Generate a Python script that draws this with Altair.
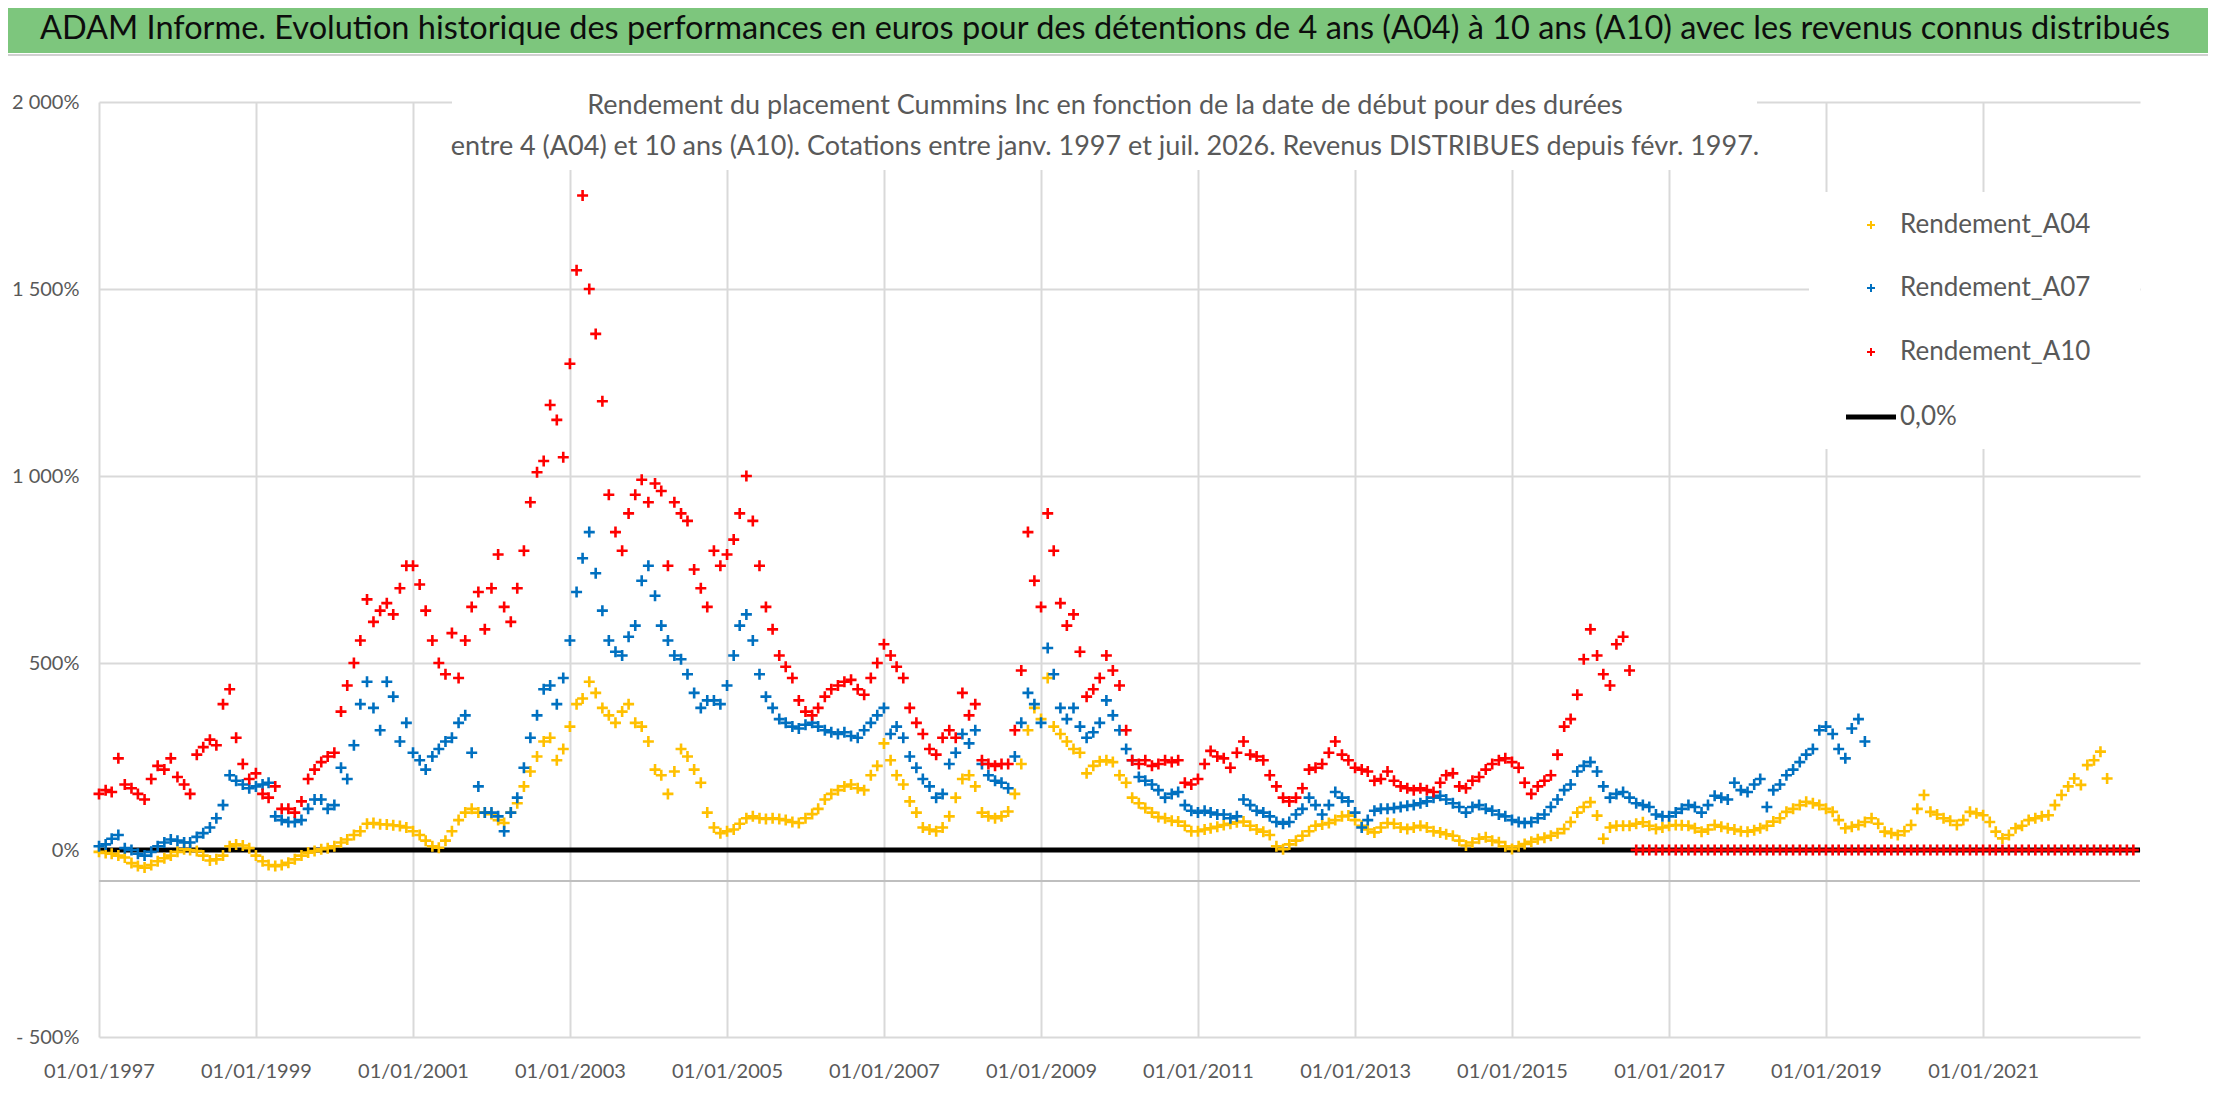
import altair as alt
import pandas as pd

FONT = "Lato"
GREY = "#595959"
GRID = "#D9D9D9"

titre = ("ADAM Informe. Evolution historique des performances en euros pour des détentions "
         "de 4 ans (A04) à 10 ans (A10) avec les revenus connus distribués")
sous_titre = [
    "Rendement du placement Cummins Inc en fonction de la date de début pour des durées",
    "entre 4 (A04) et 10 ans (A10). Cotations entre janv. 1997 et juil. 2026. Revenus DISTRIBUES depuis févr. 1997.",
]

series = ["Rendement_A04", "Rendement_A07", "Rendement_A10"]
couleurs = ["#FFC000", "#0070C0", "#FF0000"]

# valeurs mensuelles (en %), à partir de janv. 1997
a04 = [
    -5, -8, -10, -15, -20, -35, -43, -47, -40, -30, -22, -15,        # 1997
    -5, 2, 0, -3, -15, -28, -25, -15, 10, 15, 12, 5,                 # 1998
    -15, -30, -40, -43, -40, -34, -25, -15, -7, -3, 2, 5,            # 1999
    10, 20, 28, 40, 50, 70, 72, 69, 68, 66, 64, 60,                  # 2000
    50, 40, 25, 10, 6, 25, 50, 80, 100, 110, 100, 100,               # 2001
    96, 80, 72, 100, 125, 170, 210, 250, 290, 300, 240, 270,         # 2002
    330, 390, 405, 450, 420, 380, 360, 340, 370, 390, 340, 330,      # 2003
    290, 215, 200, 150, 210, 270, 250, 215, 180, 100, 60, 45,        # 2004
    50, 55, 70, 85, 90, 85, 83, 85, 83, 80, 75, 72,                  # 2005
    85, 96, 110, 135, 150, 160, 170, 175, 165, 160, 200, 225,        # 2006
    285, 240, 200, 175, 130, 100, 60, 55, 50, 60, 90, 140,           # 2007
    190, 200, 170, 100, 90, 85, 90, 103, 150, 230, 320, 380,         # 2008
    350, 460, 330, 310, 290, 270, 260, 205, 225, 237, 240, 235,      # 2009
    200, 180, 140, 125, 112, 100, 88, 85, 78, 76, 65, 50,            # 2010
    50, 55, 58, 62, 67, 70, 74, 76, 65, 55, 49, 40,                  # 2011
    10, 2, 15, 25, 38, 50, 65, 68, 72, 80, 90, 92,                   # 2012
    80, 65, 55, 47, 60, 72, 70, 60, 56, 60, 65, 60,                  # 2013
    50, 47, 42, 38, 25, 12, 20, 30, 34, 25, 21, 10,                  # 2014
    3, 10, 16, 22, 29, 33, 38, 45, 56, 75, 100, 115,                 # 2015
    128, 92, 30, 60, 65, 65, 65, 70, 74, 65, 56, 60,                 # 2016
    65, 67, 66, 65, 58, 49, 55, 67, 62, 58, 55, 50,                  # 2017
    49, 53, 58, 65, 76, 85, 102, 110, 120, 129, 125, 120,            # 2018
    110, 102, 80, 58, 62, 67, 75, 85, 70, 49, 45, 40,                # 2019
    50, 67, 110, 147, 102, 95, 85, 78, 67, 80, 102, 98,              # 2020
    93, 75, 49, 31, 40, 58, 65, 80, 85, 90, 93, 120,                 # 2021
    147, 170, 191, 174, 227, 240, 263, 191,                          # 2022
]
a07 = [
    10, 15, 30, 40, 5, 0, -10, -15, -5, 10, 20, 28,                  # 1997
    25, 20, 20, 35, 45, 60, 85, 120, 200, 185, 175, 165,             # 1998
    170, 175, 180, 90, 80, 75, 75, 80, 110, 135, 135, 110,           # 1999
    120, 220, 190, 280, 390, 450, 380, 320, 450, 410, 290, 340,      # 2000
    260, 240, 215, 250, 270, 290, 300, 340, 360, 260, 170, 100,      # 2001
    100, 90, 50, 100, 140, 220, 300, 360, 430, 440, 390, 460,        # 2002
    560, 690, 780, 850, 740, 640, 560, 530, 520, 570, 600, 720,      # 2003
    760, 680, 600, 560, 520, 510, 470, 420, 380, 400, 400, 390,      # 2004
    440, 520, 600, 630, 560, 470, 410, 380, 350, 340, 330, 325,      # 2005
    335, 340, 330, 320, 315, 310, 315, 305, 300, 320, 340, 360,      # 2006
    380, 310, 330, 300, 250, 220, 190, 170, 140, 150, 230, 260,      # 2007
    310, 285, 320, 230, 200, 185, 180, 165, 250, 340, 420, 390,      # 2008
    340, 540, 470, 380, 350, 380, 330, 300, 315, 340, 400, 360,      # 2009
    320, 270, 240, 195, 185, 175, 160, 140, 150, 155, 120, 105,      # 2010
    100, 105, 100, 95, 95, 85, 90, 135, 120, 105, 100, 90,           # 2011
    75, 70, 75, 95, 110, 140, 120, 95, 120, 155, 140, 130,           # 2012
    100, 60, 80, 105, 110, 110, 112, 115, 118, 120, 125, 130,        # 2013
    140, 145, 135, 125, 115, 100, 115, 120, 110, 105, 95, 90,        # 2014
    80, 75, 72, 75, 85, 95, 115, 135, 160, 175, 210, 225,            # 2015
    235, 210, 170, 140, 150, 155, 140, 125, 120, 115, 95, 90,        # 2016
    90, 100, 110, 120, 115, 100, 120, 145, 140, 135, 180, 160,       # 2017
    155, 175, 190, 115, 160, 175, 200, 215, 235, 255, 270, 320,      # 2018
    330, 310, 270, 245, 325, 350, 290,                               # 2019
]
a10 = [
    150, 160, 155, 245, 175, 165, 150, 135, 190, 225, 215, 245,      # 1997
    195, 175, 150, 255, 275, 295, 280, 390, 430, 300, 230, 190,      # 1998
    205, 150, 140, 170, 110, 110, 100, 130, 190, 215, 235, 250,      # 1999
    260, 370, 440, 500, 560, 670, 610, 640, 660, 630, 700, 760,      # 2000
    760, 710, 640, 560, 500, 470, 580, 460, 560, 650, 690, 590,      # 2001
    700, 790, 650, 610, 700, 800, 930, 1010, 1040, 1190, 1150, 1050, # 2002
    1300, 1550, 1750, 1500, 1380, 1200, 950, 850, 800, 900, 950, 990,  # 2003
    930, 980, 960, 760, 930, 900, 880, 750, 700, 650, 800, 760,      # 2004
    790, 830, 900, 1000, 880, 760, 650, 590, 520, 490, 460, 400,     # 2005
    370, 360, 380, 410, 430, 440, 450, 455, 430, 415, 460, 500,      # 2006
    550, 520, 490, 460, 380, 340, 310, 270, 255, 300, 320, 300,      # 2007
    420, 360, 390, 240, 230, 225, 230, 230, 320, 480, 850, 720,      # 2008
    650, 900, 800, 660, 600, 630, 530, 410, 430, 460, 520, 480,      # 2009
    440, 320, 240, 230, 240, 225, 230, 240, 235, 240, 180, 175,      # 2010
    190, 230, 265, 250, 245, 220, 260, 290, 255, 250, 240, 200,      # 2011
    170, 140, 130, 140, 165, 215, 220, 230, 260, 290, 255, 240,      # 2012
    220, 215, 210, 185, 190, 210, 185, 170, 165, 160, 165, 160,      # 2013
    155, 180, 200, 205, 170, 165, 185, 195, 215, 230, 240, 245,      # 2014
    235, 220, 180, 150, 170, 185, 200, 255, 330, 350, 415, 510,      # 2015
    590, 520, 470, 440, 550, 570, 480, 0, 0, 0, 0, 0,                # 2016
    0, 0, 0, 0, 0, 0, 0, 0, 0, 0, 0, 0,                              # 2017
    0, 0, 0, 0, 0, 0, 0, 0, 0, 0, 0, 0,                              # 2018
    0, 0, 0, 0, 0, 0, 0, 0, 0, 0, 0, 0,                              # 2019
    0, 0, 0, 0, 0, 0, 0, 0, 0, 0, 0, 0,                              # 2020
    0, 0, 0, 0, 0, 0, 0, 0, 0, 0, 0, 0,                              # 2021
    0, 0, 0, 0, 0, 0, 0, 0, 0, 0, 0, 0,                              # 2022
]

y_ticks = [-500, 0, 500, 1000, 1500, 2000]
x_tick_years = list(range(1997, 2022, 2))


def mensuel(values, serie):
    dates = pd.date_range("1997-01-01", periods=len(values), freq="MS")
    return pd.DataFrame({"date": dates.strftime("%Y-%m-%d"), "rendement": values, "serie": serie})


points = pd.concat([mensuel(a04, series[0]), mensuel(a07, series[1]), mensuel(a10, series[2])])

CROSS = "M-1,0L1,0M0,-1L0,1"
y_scale = alt.Scale(domain=[-500, 2000], nice=False, zero=False)
y_axis = alt.Axis(
    values=y_ticks, title=None, grid=True, gridColor=GRID, gridWidth=2, ticks=False, tickSize=0,
    domain=False, labelFont=FONT, labelFontSize=20, labelColor=GREY, labelPadding=20,
    labelExpr="datum.value < 0 ? '- ' + format(-datum.value, 'd') + '%' : "
              "replace(format(datum.value, ','), ',', ' ') + '%'",
)
x_axis = alt.Axis(
    values=[alt.DateTime(year=y, month=1, date=1, utc=True) for y in x_tick_years],
    labelExpr="utcFormat(datum.value, '%d/%m/%Y')", title=None, grid=True, gridColor=GRID,
    gridWidth=2, ticks=False, tickSize=0, domain=False, labelFont=FONT, labelFontSize=20,
    labelColor=GREY, labelPadding=24, labelFlush=False, labelOverlap=False,
)
x_scale = alt.Scale(
    type="utc",
    domain=[alt.DateTime(year=1997, month=1, date=1, utc=True),
            alt.DateTime(year=2023, month=1, date=1, utc=True)],
)

one = pd.DataFrame({"k": [0]})

# bandeau vert du titre
bandeau = alt.Chart(one).mark_rect(color="#7DC67D").encode(
    x=alt.value(-91), x2=alt.value(2109), y=alt.value(-94), y2=alt.value(-49))
filet = alt.Chart(one).mark_rect(color="#D0D0D0").encode(
    x=alt.value(-91), x2=alt.value(2109), y=alt.value(-48), y2=alt.value(-46))
titre_txt = alt.Chart(one).mark_text(
    text=titre, font=FONT, fontSize=32.5, color="#0D0D0D", align="center", baseline="middle"
).encode(x=alt.value(1006), y=alt.value(-73))

# axe horizontal gris et ligne 0,0%
axe_gris = alt.Chart(pd.DataFrame({"v": [-83]})).mark_rule(color="#BFBFBF", strokeWidth=2).encode(
    y=alt.Y("v:Q", scale=y_scale, axis=y_axis))
zero = alt.Chart(pd.DataFrame({"v": [0]})).mark_rule(color="black", strokeWidth=5).encode(
    y=alt.Y("v:Q", scale=y_scale, axis=y_axis))

# fonds blancs du sous-titre et de la légende
fond_titre = alt.Chart(one).mark_rect(color="white").encode(
    x=alt.value(353), x2=alt.value(1658), y=alt.value(-17), y2=alt.value(68))
fond_legende = alt.Chart(one).mark_rect(color="white").encode(
    x=alt.value(1710), x2=alt.value(2041), y=alt.value(90), y2=alt.value(347))

nuage = alt.Chart(points).mark_point(
    shape=CROSS, filled=False, size=121, strokeWidth=2.6, opacity=1
).encode(
    x=alt.X("date:T", scale=x_scale, axis=x_axis),
    y=alt.Y("rendement:Q", scale=y_scale, axis=y_axis),
    color=alt.Color("serie:N", scale=alt.Scale(domain=series, range=couleurs), legend=None),
)

sous_titres = [
    alt.Chart(one).mark_text(
        text=t, font=FONT, fontSize=27, color=GREY, align="center", baseline="middle"
    ).encode(x=alt.value(1006), y=alt.value(yy))
    for t, yy in zip(sous_titre, [4, 45])
]

legende = []
for nom, couleur, yy in zip(series, couleurs, [123, 186, 250]):
    legende.append(alt.Chart(one).mark_point(
        shape=CROSS, filled=False, size=64, strokeWidth=2, color=couleur, opacity=1
    ).encode(x=alt.value(1772), y=alt.value(yy)))
    legende.append(alt.Chart(one).mark_text(
        text=nom, font=FONT, fontSize=26, color=GREY, align="left", baseline="middle"
    ).encode(x=alt.value(1801), y=alt.value(yy)))
legende.append(alt.Chart(one).mark_rule(color="black", strokeWidth=5).encode(
    x=alt.value(1747), x2=alt.value(1797), y=alt.value(315)))
legende.append(alt.Chart(one).mark_text(
    text="0,0%", font=FONT, fontSize=26, color=GREY, align="left", baseline="middle"
).encode(x=alt.value(1801), y=alt.value(315)))

chart = alt.layer(
    bandeau, filet, titre_txt, axe_gris, zero, fond_titre, fond_legende, nuage,
    *sous_titres, *legende,
).properties(
    width=2041, height=935,
    padding={"left": 91, "top": 94, "right": 68, "bottom": 57},
    autosize=alt.AutoSizeParams(type="none"),
    background="white",
).configure_view(stroke=None)

chart.save("out.html", embed_options={"renderer": "svg", "actions": False})
